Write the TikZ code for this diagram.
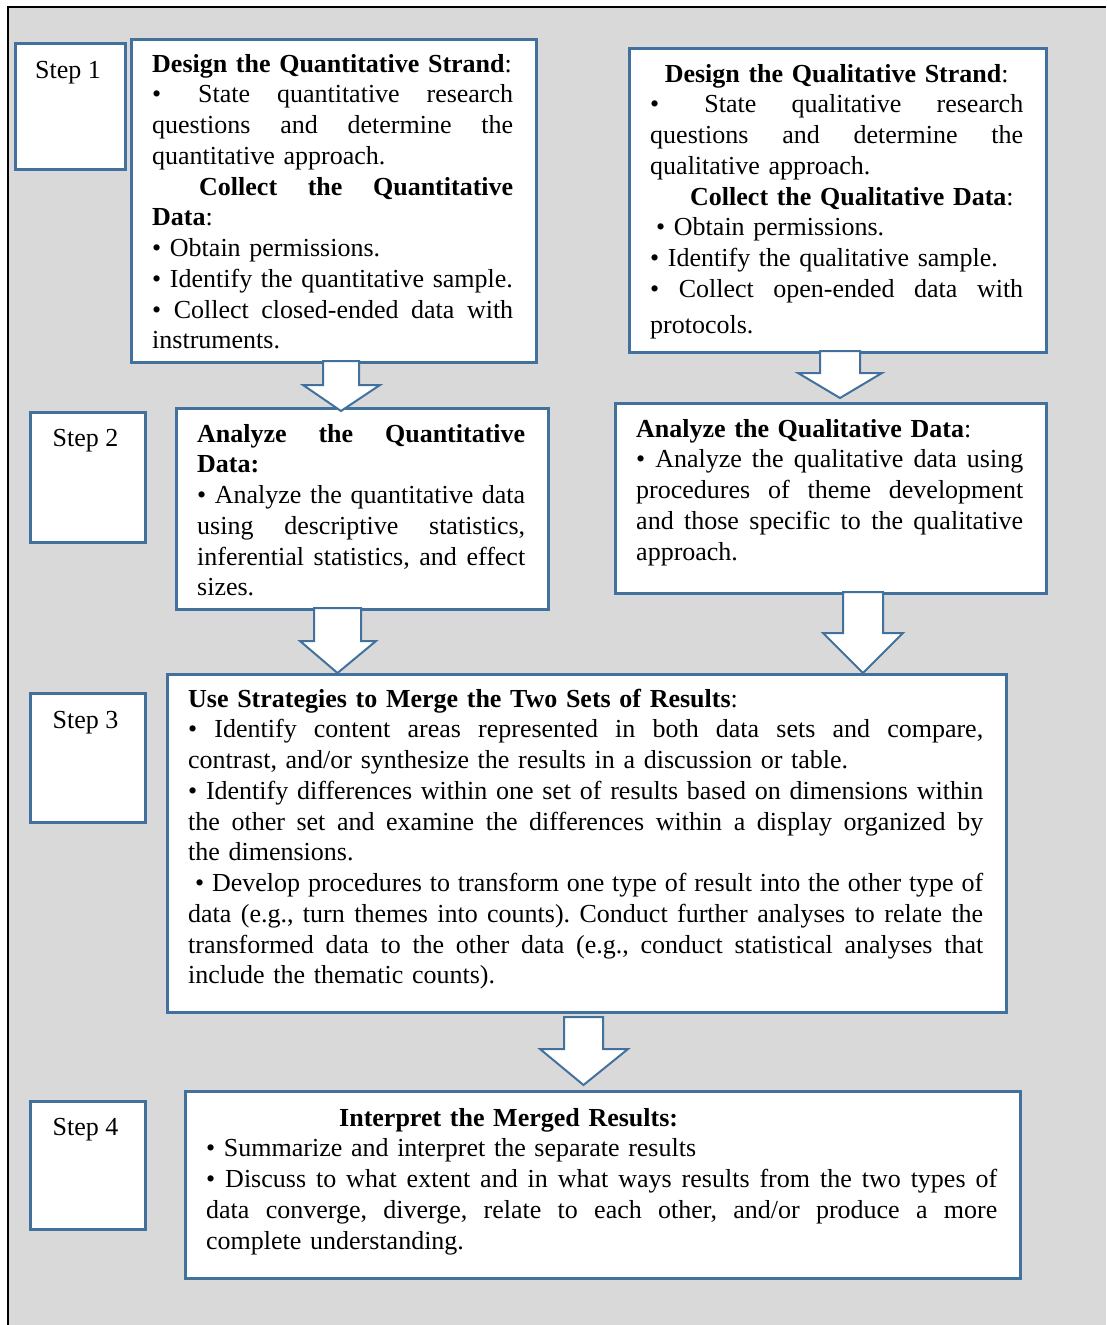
\documentclass[tikz,border=0pt]{standalone}
\usepackage{fontspec}
\setmainfont{Liberation Serif}
\definecolor{boxblue}{HTML}{41719C}
\definecolor{bggray}{HTML}{D9D9D9}
\newcommand\jl[2]{\leavevmode\hbox to #1{\spaceskip=0.25em plus 1fil minus 0.1em\relax #2}}
\newcommand\blockarrow[7]{% shaft left, shaft right, top, head y, wing left, wing right, tip y
  \draw[barrow] (#1,-#3) -- (#1,-#4) -- (#5,-#4) -- ({(#1+#2)/2},-#7) -- (#6,-#4) -- (#2,-#4) -- (#2,-#3) -- cycle;}
\begin{document}
\begin{tikzpicture}[x=1pt,y=1pt,
  box/.style={draw=boxblue, line width=2.5pt, fill=white, inner sep=0pt, anchor=north west},
  txt/.style={anchor=base west, inner sep=0pt, align=left, text width=880pt, font=\fontsize{26}{30.75}\selectfont\frenchspacing},
  steptxt/.style={anchor=base, inner sep=0pt, font=\fontsize{26}{30.75}\selectfont},
  barrow/.style={draw=boxblue, line width=2pt, fill=white, line join=miter}]
\useasboundingbox (0,0) rectangle (1106,-1325);
\fill[bggray] (8,-7) rectangle (1106,-1325);
\draw[black, line width=2pt] (8,-1325) -- (8,-7) -- (1106,-7);

% step boxes
\node[box, minimum width=110pt, minimum height=126pt] (s1) at (14,-42) {};
\node[box, minimum width=115pt, minimum height=130pt] (s2) at (29,-411) {};
\node[box, minimum width=115pt, minimum height=129pt] (s3) at (29,-692) {};
\node[box, minimum width=115pt, minimum height=128pt] (s4) at (29,-1100) {};
\node[steptxt] (t1) at (68,-78) {Step 1};
\node[steptxt] (t2) at (85.5,-446) {Step 2};
\node[steptxt] (t3) at (85.5,-728) {Step 3};
\node[steptxt] (t4) at (85.5,-1135) {Step 4};

% content boxes
\node[box, minimum width=405pt, minimum height=323pt] (b1) at (130,-38) {};
\node[box, minimum width=417pt, minimum height=304pt] (q1) at (628,-47) {};
\node[box, minimum width=372pt, minimum height=201pt] (b2) at (175,-407) {};
\node[box, minimum width=431pt, minimum height=190pt] (q2) at (614,-402) {};
\node[box, minimum width=839pt, minimum height=338pt] (m) at (166,-673) {};
\node[box, minimum width=835pt, minimum height=187pt] (ib) at (184,-1090) {};

% arrows
\blockarrow{323}{359}{361}{385}{303}{380}{411}
\blockarrow{820}{860}{351}{373}{798}{882}{398}
\blockarrow{314}{361}{608}{641}{300}{376}{673}
\blockarrow{843}{883}{592}{633}{823}{903}{673}
\blockarrow{564}{603}{1017}{1049}{540}{628}{1085}

% texts
\node[txt] (b1t) at (152,-72) {%
\textbf{Design the Quantitative Strand}:\\
\jl{361pt}{\textbullet\hspace*{10pt} State quantitative research}\\
\jl{361pt}{questions and determine the}\\
quantitative approach.\\
\hspace*{47pt}\jl{314pt}{\textbf{Collect the Quantitative}}\\
\textbf{Data}:\\
\textbullet\ Obtain permissions.\\
\textbullet\ Identify the quantitative sample.\\
\jl{361pt}{\textbullet\ Collect closed-ended data with}\\
instruments.};

\node[txt] (q1t) at (650,-82) {%
\leavevmode\hbox to 373pt{\hss\textbf{Design the Qualitative Strand}:\hss}\\
\jl{373pt}{\textbullet\hspace*{10pt} State qualitative research}\\
\jl{373pt}{questions and determine the}\\
qualitative approach.\\
\hspace*{40pt}\textbf{Collect the Qualitative Data}:\\
\hspace*{6pt}\textbullet\ Obtain permissions.\\
\textbullet\ Identify the qualitative sample.\\
\jl{373pt}{\textbullet\ Collect open-ended data with}\\[5.3pt]
protocols.};

\node[txt] (b2t) at (197,-442) {%
\jl{328pt}{\textbf{Analyze the Quantitative}}\\
\textbf{Data:}\\
\jl{328pt}{\textbullet\ Analyze the quantitative data}\\
\jl{328pt}{using descriptive statistics,}\\
\jl{328pt}{inferential statistics, and effect}\\
sizes.};

\node[txt] (q2t) at (636,-437) {%
\textbf{Analyze the Qualitative Data}:\\
\jl{387pt}{\textbullet\ Analyze the qualitative data using}\\
\jl{387pt}{procedures of theme development}\\
\jl{387pt}{and those specific to the qualitative}\\
approach.};

\node[txt] (mt) at (188,-707) {%
\textbf{Use Strategies to Merge the Two Sets of Results}:\\
\jl{795pt}{\textbullet\ Identify content areas represented in both data sets and compare,}\\
contrast, and/or synthesize the results in a discussion or table.\\
\jl{795pt}{\textbullet\ Identify differences within one set of results based on dimensions within}\\
\jl{795pt}{the other set and examine the differences within a display organized by}\\
the dimensions.\\
\hspace*{7pt}\jl{788pt}{\textbullet\ Develop procedures to transform one type of result into the other type of}\\
\jl{795pt}{data (e.g., turn themes into counts). Conduct further analyses to relate the}\\
\jl{795pt}{transformed data to the other data (e.g., conduct statistical analyses that}\\
include the thematic counts).};

\node[txt] (it) at (206,-1126) {%
\hspace*{133pt}\textbf{Interpret the Merged Results:}\\
\textbullet\ Summarize and interpret the separate results\\
\jl{791pt}{\textbullet\ Discuss to what extent and in what ways results from the two types of}\\
\jl{791pt}{data converge, diverge, relate to each other, and/or produce a more}\\
complete understanding.};
\end{tikzpicture}
\end{document}
